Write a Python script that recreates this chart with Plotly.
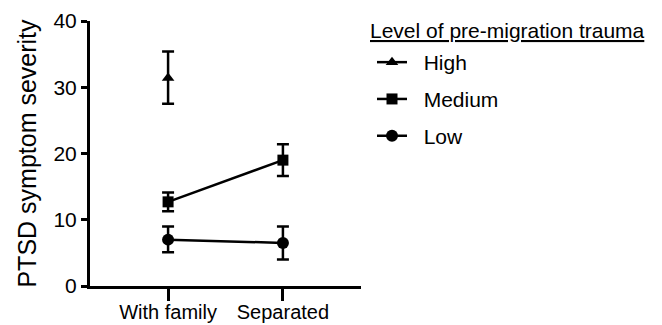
import plotly.graph_objects as go

conditions = ["With family", "Separated"]

high_x = ["With family"]
high_mean = [31.4]
high_upper = [35.4]
high_lower = [27.5]

medium_mean = [12.7, 19.0]
medium_upper = [14.1, 21.4]
medium_lower = [11.3, 16.6]

low_mean = [7.0, 6.5]
low_upper = [9.0, 9.0]
low_lower = [5.1, 4.0]

y_ticks = [0, 10, 20, 30, 40]

FONT = "Liberation Sans, Arial, Helvetica, sans-serif"
NB = "\u00a0\u00a0"


def err(mean, upper, lower):
    return dict(type="data", symmetric=False,
                array=[u - m for u, m in zip(upper, mean)],
                arrayminus=[m - l for m, l in zip(mean, lower)],
                color="black", thickness=2.5, width=6)


fig = go.Figure()
series = [
    ("High", high_x, high_mean, high_upper, high_lower, "triangle-up", 11),
    ("Medium", conditions, medium_mean, medium_upper, medium_lower, "square", 11),
    ("Low", conditions, low_mean, low_upper, low_lower, "circle", 12),
]
for name, xs, m, u, l, sym, sz in series:
    fig.add_trace(go.Scatter(
        x=xs, y=m, name=NB + name, legendgroup=name,
        mode="lines+markers",
        line=dict(color="black", width=2.5),
        marker=dict(symbol=sym, size=sz, color="black"),
        error_y=err(m, u, l),
    ))

fig.add_annotation(
    text="<u>Level of pre-migration trauma</u>",
    xref="paper", yref="paper", x=(368 - 90) / 271, y=(286 - 30) / 265,
    xanchor="left", yanchor="middle", showarrow=False,
    font=dict(size=21),
)

W, H = 654, 317
fig.update_layout(
    width=W, height=H,
    margin=dict(l=82, r=301, t=13, b=39, autoexpand=False),
    paper_bgcolor="white", plot_bgcolor="white",
    font=dict(family=FONT, size=21, color="black"),
    showlegend=True,
    legend=dict(
        xref="container", yref="container",
        x=364 / W, y=1 - 34 / H, xanchor="left", yanchor="top",
        tracegroupgap=6.5, bgcolor="rgba(0,0,0,0)",
        font=dict(size=21),
    ),
    xaxis=dict(
        type="category", categoryorder="array", categoryarray=conditions,
        range=[-0.68, 1.68],
        showline=True, linecolor="black", linewidth=3,
        ticks="outside", ticklen=12, tickwidth=3, tickcolor="black",
        showgrid=False, zeroline=False,
        tickfont=dict(size=20), ticklabelstandoff=-6,
    ),
    yaxis=dict(
        range=[0, 40], tickvals=y_ticks,
        showline=True, linecolor="black", linewidth=3,
        ticks="outside", ticklen=6, tickwidth=3, tickcolor="black",
        showgrid=False, zeroline=False,
        title=dict(text="PTSD symptom severity", standoff=10),
    ),
)

fig.write_html("out.html")
